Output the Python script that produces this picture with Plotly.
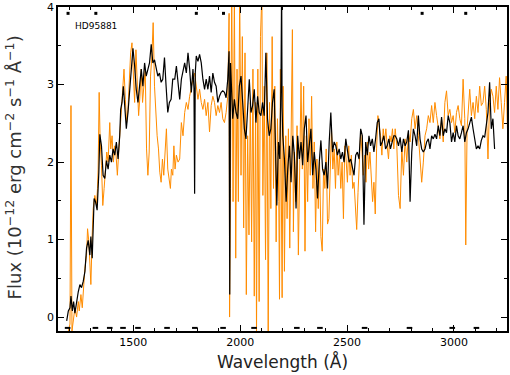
import plotly.graph_objects as go

# ---------------- data ----------------
black_wl = [1188.6,1196.3,1204,1208.7,1215,1221,1227,1235,1243,1250.5,1258,1266,1274,1281.6,1289.3,1297,1301.7,1308,1312.6,1317,
            1323.4,1331,1339,1343.6,1351.3,1359,1366.8,1374.6,1382.4,1390,1398,1405.6,1413.3,1421,1429,1436.6,1441.2,1447.4,1453.6,1459.8,
            1467.6,1475.3,1483,1490.9,1498.6,1506.4,1514,1522,1529.6,1537.3,1545,1553,1560.6,1568.4,1576,1584,1591.6,1599.4,1607,1615,
            1622.6,1630.4,1638,1646,1653.6,1661.4,1669,1677,1684.6,1694,1701.7,1709.5,1717.2,1725,1732.7,1740.5,1748.2,1756,1763.7,1771.5,
            1779.2,1784,1787,1790,1794.7,1802.5,1810.2,1818,1825.7,1833.5,1841.2,1849,1856.7,1864.5,1872.2,1880,1887.7,1895.5,1903.2,1911,
            1918.7,1926.5,1934.2,1942,1948,1951.3,1955,1960,1965.2,1973,1980.7,1988.5,1996.2,2004,2011.7,2019.5,2027.2,2035,2042.7,2050.5,
            2058.2,2066,2073.7,2081.5,2089.2,2097,2104.7,2112.5,2120.2,2128,2135.7,2143.5,2151.2,2159,2166.7,2171.4,2179,2185.3,2191,2194,
            2196,2199.4,2207,2215,2222.6,2230.4,2238,2246,2253.6,2261.4,2269,2277,2284.6,2292.4,2300,2308,2315.6,2323.4,2331,2339,
            2346.6,2354.4,2362,2370,2377.6,2385.4,2393,2401,2408.6,2416.4,2424,2432,2439.6,2447.4,2455,2463,2470.6,2478.4,2486,2494,
            2501.6,2509.4,2517,2525,2532.6,2540.4,2548,2556,2563.6,2571.4,2579,2587,2594.6,2602.4,2610,2618,2625.6,2633.4,2641,2649,
            2656.6,2664.4,2672,2680,2687.6,2695.4,2703,2711,2718.6,2725,2732.7,2740.5,2748.2,2756,2763.7,2771.5,2779.2,2787,2794.7,2802.5,
            2810.2,2818,2825.7,2833.5,2841.2,2849,2856.7,2864.5,2872.2,2880,2887.7,2895.5,2903.2,2911,2918.7,2926.5,2934.2,2942,2949.7,2957.5,
            2965.2,2973,2980.7,2988.5,2996.2,3004,3011.7,3019.5,3027.2,3035,3042.7,3050.5,3058.2,3066,3073.7,3081.5,3089.2,3097,3104.7,3112.5,
            3120.2,3128,3135.7,3143.5,3151.2,3159,3166.7,3174.5,3182.2,3190]
black_flux = [-0.05,0.08,0.12,0.27,0.08,0.20,0.05,0.20,0.33,0.42,0.38,0.46,0.59,0.89,0.99,0.80,1.04,0.76,1.32,1.53,
              1.49,1.38,1.87,2.36,2.21,1.83,1.79,2.02,1.91,2.09,2.00,2.17,2.09,2.26,2.04,2.34,2.68,2.77,2.98,2.77,
              2.43,2.64,2.94,3.20,3.47,3.24,2.94,2.77,2.98,3.20,2.98,3.28,3.11,3.20,3.28,3.52,3.28,3.32,3.22,3.11,
              3.15,3.03,3.07,3.35,2.98,2.64,2.77,2.81,3.07,3.07,3.24,2.98,2.81,3.07,3.20,3.28,3.15,3.41,3.20,2.90,
              3.20,2.95,1.59,3.15,3.37,3.30,3.39,3.28,3.07,2.94,3.07,2.94,3.11,2.90,3.15,3.03,2.98,2.77,2.85,2.90,
              2.92,2.90,2.83,3.07,3.43,0.29,3.28,3.00,2.56,2.81,2.64,2.56,2.98,3.11,2.68,2.43,2.30,2.77,3.07,2.64,
              2.73,2.94,2.51,2.85,2.64,2.60,2.77,2.60,3.41,2.56,2.34,2.43,2.77,2.94,2.13,1.44,2.26,2.04,3.07,4.30,
              2.70,2.34,2.04,1.49,1.91,2.21,1.74,2.34,2.09,1.40,2.34,2.04,2.26,1.96,2.43,2.60,2.00,2.26,2.43,1.83,
              2.13,1.91,1.53,2.00,2.28,1.91,1.83,2.00,1.66,2.26,2.64,2.13,2.26,2.21,2.09,2.17,2.04,2.13,2.00,2.30,
              2.17,2.00,2.04,1.91,1.83,2.09,2.13,2.04,2.43,2.34,1.19,2.26,2.09,2.34,2.21,2.30,2.13,2.30,2.51,2.56,
              2.21,2.26,2.34,2.17,2.21,2.30,2.17,2.26,2.34,2.34,2.30,2.21,2.32,2.13,2.30,2.21,2.26,2.41,1.49,2.13,
              2.43,2.34,2.21,2.60,2.30,2.17,2.13,2.17,2.26,2.30,2.17,2.34,2.30,2.36,2.30,2.47,2.34,2.58,2.34,2.43,
              2.38,2.60,2.51,2.26,2.38,2.26,2.47,2.34,2.30,2.38,2.47,2.26,2.38,2.43,2.51,2.58,2.43,2.30,2.17,2.21,
              2.17,2.28,2.34,2.32,2.47,2.64,3.03,2.43,2.56,2.17]

orange_wl = [1188.6,1196.3,1204.1,1208.7,1213.4,1219.6,1227.3,1235,1242.8,1247.5,1255.2,1261.4,1267.6,1273.8,1281.6,1286.2,1292.4,1297.1,1301.7,1307.9,
             1312.6,1320.3,1328,1332.7,1335.8,1340.5,1345.1,1351.3,1357.5,1363.7,1369.9,1376.1,1382.3,1390.1,1394.7,1400.9,1407.1,1413.3,1419.5,1425.7,
             1431.9,1438.1,1444.3,1450.5,1456.7,1462.9,1469.1,1475.3,1481.5,1487.7,1494,1500.1,1506.4,1512.5,1518.8,1525,1531.2,1537.3,1543.5,1549.7,
             1556,1562.1,1568.4,1574.5,1580.7,1587,1593.1,1599.4,1605.5,1611.7,1618,1624.1,1630.3,1636.5,1642.7,1649,1655.1,1661.3,1667.5,1673.7,
             1678.5,1684.9,1690,1695.5,1701.7,1709.5,1717.2,1725,1732.7,1740.5,1748.2,1756,1763.7,1771.5,1779.2,1787,1794.7,1802.5,1810.2,1818,
             1825.7,1833.5,1841.2,1849,1856.7,1864.5,1872.2,1880,1887.7,1895.5,1903.2,1911,1918.7,1926.5,1934.2,1942,1948.2,1950.5,1954.4,1960.6,
             1966.8,1973,1979.2,1985.4,1991.6,1997.8,2004,2010.2,2016.4,2022.6,2028.8,2035,2041.2,2047.4,2053.6,2059.8,2066,2072.2,2076.5,2082.6,
             2088.8,2095,2101.7,2106.3,2112.5,2118.7,2124.9,2131.1,2137.3,2143.5,2149.7,2155.9,2162.1,2168.3,2174.5,2180.7,2184,2188,2196.3,2200.9,
             2207.1,2213.3,2219.5,2225.7,2231.9,2238.1,2244.3,2249,2253.6,2259.8,2266,2272.2,2278.4,2284.6,2290.8,2297,2303.2,2309.4,2315.6,2321.8,
             2328,2334.2,2340.4,2346.6,2352.8,2359,2365.2,2371.4,2377.6,2383.8,2390,2396.2,2402.4,2408.6,2414.8,2421,2427.2,2433.4,2439.6,2445.8,
             2452,2458.2,2464.4,2470.6,2476.8,2483,2489.2,2495.4,2501.6,2507.8,2514,2520.2,2526.4,2532.6,2538.8,2545,2551.2,2557.4,2563.6,2569.8,
             2576,2582.2,2588.4,2594.6,2600.8,2607,2613.2,2619.4,2625.6,2631.8,2638,2644.2,2650.4,2656.6,2662.8,2669,2675.2,2681.4,2687.6,2693.8,
             2700,2706.2,2712.4,2718.6,2725,2732.7,2740.5,2748.2,2756,2763.7,2771.5,2779.2,2787,2794.7,2802.5,2810.2,2818,2825.7,2833.5,2841.2,
             2849,2856.7,2864.5,2872.2,2880,2887.7,2895.5,2903.2,2911,2918.7,2926.5,2934.2,2942,2949.7,2957.5,2965.2,2973,2980.7,2988.5,2996.2,
             3004,3011.7,3019.5,3027.2,3035,3042.7,3050.5,3055.1,3061.3,3066,3073.7,3081.5,3089.2,3097,3104.7,3112.5,3120.2,3128,3135.7,3143.5,
             3151.2,3159,3166.7,3174.5,3182.2,3190,3197.7,3205.5,3213.2,3221,3228.7,3236.5,3244.2,3250]
orange_flux = [-0.20,-0.18,-0.09,2.73,-0.18,-0.05,0.12,0.00,0.20,0.08,0.29,0.12,0.42,0.63,0.80,1.14,0.97,0.68,0.42,1.06,
               1.40,1.57,1.44,1.66,1.91,2.90,2.26,1.96,1.44,1.66,1.96,2.13,2.00,2.51,2.17,2.34,2.00,2.21,2.09,1.83,
               2.13,2.43,2.68,3.03,3.20,2.81,2.51,2.68,2.98,3.41,3.54,3.11,2.77,3.45,2.98,2.60,2.85,3.20,2.77,2.94,
               3.20,2.17,1.83,2.13,3.11,3.37,3.80,2.98,2.64,2.34,2.17,1.87,1.74,2.04,1.83,2.17,2.43,1.91,1.74,1.66,
               1.91,1.83,2.21,1.91,2.09,2.00,2.04,2.51,2.34,2.64,2.77,2.68,2.85,2.98,3.07,3.15,2.98,2.81,2.94,2.77,
               2.68,2.81,2.60,2.77,2.39,2.73,2.85,2.77,2.60,2.73,2.64,2.77,2.56,2.51,2.64,2.85,3.92,0.00,1.66,4.20,
               1.49,4.20,0.76,3.20,1.49,4.20,1.83,3.62,1.15,3.41,0.29,2.34,1.06,2.77,0.97,3.20,0.27,2.77,-0.22,3.20,
               0.20,3.62,4.20,1.57,2.98,0.74,3.41,-0.22,2.77,1.40,3.62,1.66,2.98,0.97,2.56,1.49,0.23,3.20,0.25,2.98,
               0.59,2.34,1.27,2.43,0.89,2.56,3.71,1.10,2.13,1.49,2.47,0.80,2.13,3.03,1.91,2.98,0.85,2.34,1.49,2.56,
               1.83,2.85,1.66,2.26,1.10,2.04,1.40,2.00,1.04,0.85,1.91,1.66,2.17,1.20,1.27,2.00,2.43,1.91,2.17,1.66,
               2.26,1.83,2.09,1.66,2.00,1.27,2.21,2.04,1.74,2.21,1.83,2.09,1.66,1.74,1.49,1.13,1.61,2.00,2.38,2.13,
               1.83,2.09,1.74,2.26,1.91,2.13,1.79,1.49,1.74,1.33,2.17,2.60,2.47,2.34,2.09,2.43,2.26,2.43,2.21,2.04,
               2.34,2.26,2.43,2.17,2.43,2.21,1.57,1.40,2.17,1.83,2.30,2.00,2.38,2.26,2.56,2.68,2.43,2.60,2.34,2.09,
               1.74,2.00,2.34,2.43,2.60,2.51,2.73,2.51,2.77,2.60,2.43,2.30,2.56,2.26,2.77,2.92,2.60,2.68,2.51,2.60,
               2.38,2.64,2.73,2.56,2.47,3.07,2.56,0.93,2.43,2.68,2.94,2.60,2.77,2.56,2.85,2.64,2.98,2.73,2.77,2.98,
               2.68,2.04,2.77,2.94,2.85,2.64,2.98,2.68,3.09,2.77,2.43,2.77,3.11,2.43]

# line-identification marks
top_mark_wl = [1195, 1325, 1795, 1922, 2851, 3055]
top_mark_y = [3.92, 3.92, 3.92, 3.92, 3.92, 3.92]
bot_mark_wl = [1193, 1323, 1390, 1452, 1522, 1658, 1788, 1920, 2065, 2265, 2373, 2582, 2792, 2992, 3105]
bot_mark_y = [-0.14] * len(bot_mark_wl)

x_tickvals = [1500, 2000, 2500, 3000]
y_tickvals = [0, 1, 2, 3, 4]
star_name = "HD95881"
x_title = "Wavelength (Å)"
y_title = "Flux (10<sup>−12</sup> erg cm<sup>−2</sup> s<sup>−1</sup> Å<sup>−1</sup>)"

# ---------------- figure ----------------
fig = go.Figure()
fig.add_trace(go.Scatter(x=orange_wl, y=orange_flux, mode="lines",
                         line=dict(color="#ff8c00", width=1), showlegend=False))
fig.add_trace(go.Scatter(x=black_wl, y=black_flux, mode="lines",
                         line=dict(color="#000000", width=1.2), showlegend=False))
fig.add_trace(go.Scatter(x=top_mark_wl, y=top_mark_y, mode="markers",
                         marker=dict(symbol="square", size=3, color="#000"), showlegend=False))
fig.add_trace(go.Scatter(x=bot_mark_wl, y=bot_mark_y, mode="markers",
                         marker=dict(symbol="line-ew", size=4, line=dict(width=2, color="#000")),
                         showlegend=False))

font = "DejaVu Sans"
fig.update_layout(
    width=510, height=375,
    margin=dict(l=58, r=1, t=4, b=44),
    paper_bgcolor="white", plot_bgcolor="white",
    font=dict(family=font, color="#000"),
    xaxis=dict(range=[1148, 3248], tickvals=x_tickvals, ticks="inside", ticklen=6, tickwidth=1,
               tickcolor="#000", showline=True, linewidth=1.5, linecolor="#000", mirror="ticks",
               showgrid=False, zeroline=False, tickfont=dict(size=11, family=font),
               minor=dict(dtick=100, ticks="inside", ticklen=3, tickcolor="#000", showgrid=False),
               title=dict(text=x_title, font=dict(size=17, family=font, color="#222"), standoff=8)),
    yaxis=dict(range=[-0.18, 4.002], tickvals=y_tickvals, ticks="inside", ticklen=6, tickwidth=1,
               tickcolor="#000", showline=True, linewidth=1.5, linecolor="#000", mirror="ticks",
               showgrid=False, zeroline=False, tickfont=dict(size=11, family=font),
               ticklabeloverflow="allow",
               minor=dict(dtick=0.5, ticks="inside", ticklen=3, tickcolor="#000", showgrid=False)),
    annotations=[
        dict(text=star_name, x=0.033, y=0.94, xref="paper", yref="paper",
             xanchor="left", yanchor="middle", showarrow=False,
             font=dict(size=9, family=font, color="#000")),
        dict(text=y_title, x=-0.098, y=0.505, xref="paper", yref="paper", textangle=-90,
             xanchor="center", yanchor="middle", showarrow=False,
             font=dict(size=18, family=font, color="#333")),
    ],
)

fig.write_html("out.html", config={"displayModeBar": False},
               post_script="document.body.style.margin='0';")
